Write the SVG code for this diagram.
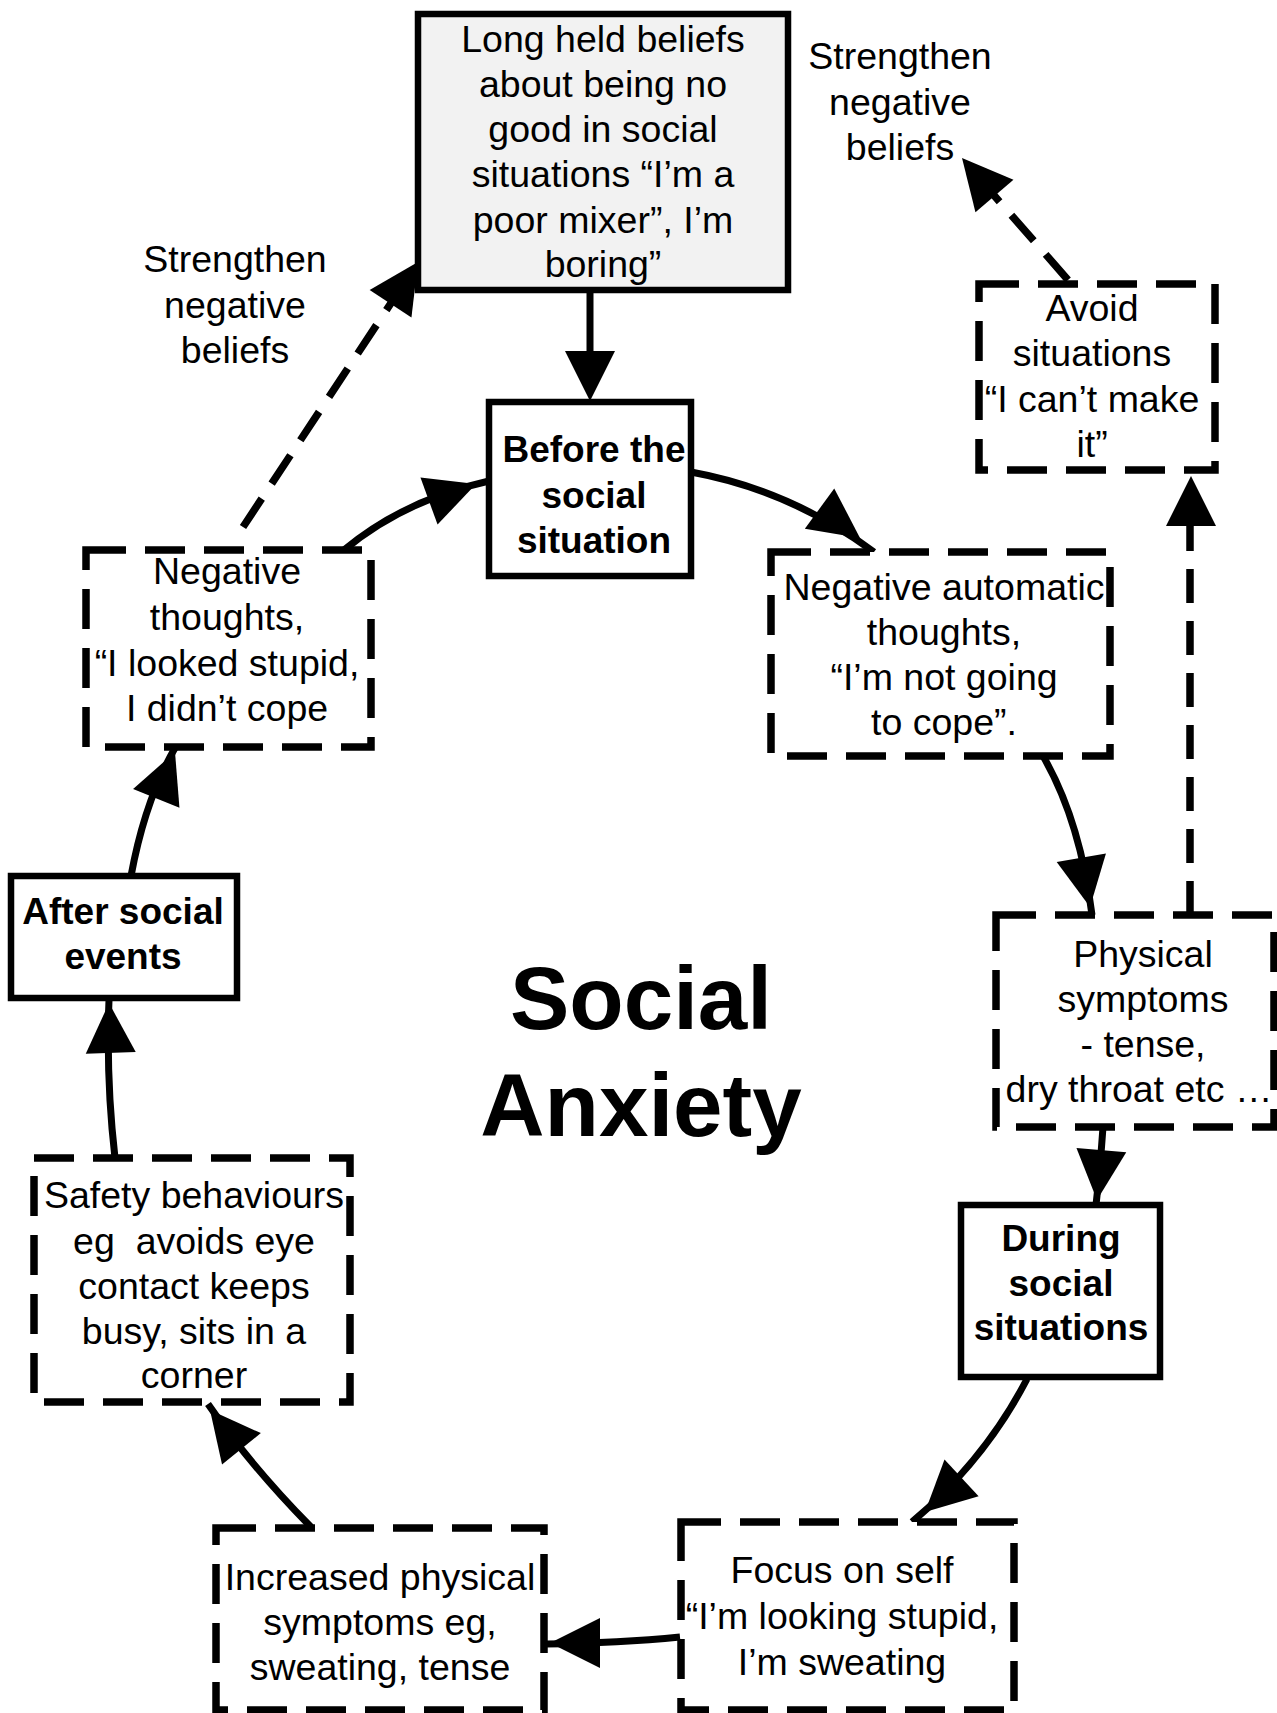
<svg xmlns="http://www.w3.org/2000/svg" xmlns:xlink="http://www.w3.org/1999/xlink" width="1277" height="1713" viewBox="0 0 1277 1713">
<style>
  .t { font-family: "Liberation Sans", Arial, sans-serif; font-size: 37.5px; fill: #000; text-anchor: middle; }
  .b { font-family: "Liberation Sans", Arial, sans-serif; font-size: 37px; font-weight: bold; fill: #000; text-anchor: middle; }
  .title { font-family: "Liberation Sans", Arial, sans-serif; font-size: 89px; font-weight: bold; fill: #000; text-anchor: middle; }
  .solid { fill: #fff; stroke: #000; stroke-width: 6.5; }
  .dash { fill: #fff; stroke: #000; stroke-width: 7.5; stroke-dasharray: 40 19; }
  .c { fill: none; stroke: #000; stroke-width: 7; }
  .cd { fill: none; stroke: #000; stroke-width: 7.5; stroke-dasharray: 34 18; }
</style>
<defs>
  <path id="ah" d="M0,0 L-50,-25 L-50,25 Z" fill="#000"/>
</defs>
<rect x="0" y="0" width="1277" height="1713" fill="#fff"/>

<g id="connectors">
  <line class="c" x1="590" y1="290" x2="590" y2="380"/>
  <use xlink:href="#ah" href="#ah" transform="translate(590,401) rotate(90)"/>

  <path class="c" d="M691,472 Q790,490 874,552"/>
  <use xlink:href="#ah" href="#ah" transform="translate(860,538) rotate(36)"/>

  <path class="c" d="M1043,756 Q1080,820 1092,915"/>
  <use xlink:href="#ah" href="#ah" transform="translate(1090,907) rotate(80)"/>

  <line class="cd" x1="1190" y1="915" x2="1190" y2="505"/>
  <use xlink:href="#ah" href="#ah" transform="translate(1191,476) rotate(-90)"/>

  <line class="cd" x1="1068" y1="280" x2="985" y2="185"/>
  <use xlink:href="#ah" href="#ah" transform="translate(962,158) rotate(-130.5)"/>

  <path class="c" d="M1103,1127 Q1100,1170 1096,1205"/>
  <use xlink:href="#ah" href="#ah" transform="translate(1097,1200) rotate(95)"/>

  <path class="c" d="M1027,1379 Q985,1460 912,1522"/>
  <use xlink:href="#ah" href="#ah" transform="translate(925,1512) rotate(137)"/>

  <path class="c" d="M680,1637 Q620,1643 546,1644"/>
  <use xlink:href="#ah" href="#ah" transform="translate(550,1643) rotate(180)"/>

  <path class="c" d="M311,1527 Q250,1465 208,1404"/>
  <use xlink:href="#ah" href="#ah" transform="translate(210,1410) rotate(-129)"/>

  <path class="c" d="M115,1158 Q106,1080 109,1000"/>
  <use xlink:href="#ah" href="#ah" transform="translate(109,1003) rotate(-92)"/>

  <path class="c" d="M131,876 Q145,800 175,748"/>
  <use xlink:href="#ah" href="#ah" transform="translate(175,752) rotate(-68)"/>

  <path class="c" d="M344,550 Q404,500 489,481"/>
  <use xlink:href="#ah" href="#ah" transform="translate(476,484) rotate(-20)"/>

  <line class="cd" x1="243" y1="527" x2="395" y2="297"/>
  <use xlink:href="#ah" href="#ah" transform="translate(418,262) rotate(-56.7)"/>
</g>

<g id="beliefs">
  <rect x="418" y="14" width="370" height="276" fill="#f2f2f2" stroke="#000" stroke-width="6.5"/>
  <text class="t" x="603" y="52">Long held beliefs</text>
  <text class="t" x="603" y="97">about being no</text>
  <text class="t" x="603" y="142">good in social</text>
  <text class="t" x="603" y="187">situations “I’m a</text>
  <text class="t" x="603" y="233">poor mixer”, I’m</text>
  <text class="t" x="603" y="277">boring”</text>
</g>

<g id="label-strengthen-right">
  <text class="t" x="900" y="69">Strengthen</text>
  <text class="t" x="900" y="115">negative</text>
  <text class="t" x="900" y="160">beliefs</text>
</g>

<g id="label-strengthen-left">
  <text class="t" x="235" y="272">Strengthen</text>
  <text class="t" x="235" y="318">negative</text>
  <text class="t" x="235" y="363">beliefs</text>
</g>

<g id="before">
  <rect class="solid" x="489" y="402" width="202" height="174"/>
  <text class="b" x="594" y="462">Before the</text>
  <text class="b" x="594" y="508">social</text>
  <text class="b" x="594" y="553">situation</text>
</g>

<g id="nat">
  <rect class="dash" x="771" y="552" width="339" height="204"/>
  <text class="t" x="944" y="600">Negative automatic</text>
  <text class="t" x="944" y="645">thoughts,</text>
  <text class="t" x="944" y="690">“I’m not going</text>
  <text class="t" x="944" y="735">to cope”.</text>
</g>

<g id="avoid">
  <rect class="dash" x="979" y="284" width="236" height="186"/>
  <text class="t" x="1092" y="321">Avoid</text>
  <text class="t" x="1092" y="366">situations</text>
  <text class="t" x="1092" y="412">“I can’t make</text>
  <text class="t" x="1092" y="457">it”</text>
</g>

<g id="physical">
  <rect class="dash" x="996" y="915" width="278" height="212"/>
  <text class="t" x="1143" y="967">Physical</text>
  <text class="t" x="1143" y="1012">symptoms</text>
  <text class="t" x="1143" y="1057">- tense,</text>
  <text class="t" x="1139" y="1102">dry throat etc …</text>
</g>

<g id="during">
  <rect class="solid" x="961" y="1205" width="199" height="172"/>
  <text class="b" x="1061" y="1251">During</text>
  <text class="b" x="1061" y="1296">social</text>
  <text class="b" x="1061" y="1340">situations</text>
</g>

<g id="focus">
  <rect class="dash" x="681" y="1522" width="333" height="188"/>
  <text class="t" x="842" y="1583">Focus on self</text>
  <text class="t" x="842" y="1629">“I’m looking stupid,</text>
  <text class="t" x="842" y="1675">I’m sweating</text>
</g>

<g id="increased">
  <rect class="dash" x="216" y="1528" width="328" height="182"/>
  <text class="t" x="380" y="1590">Increased physical</text>
  <text class="t" x="380" y="1635">symptoms eg,</text>
  <text class="t" x="380" y="1680">sweating, tense</text>
</g>

<g id="safety">
  <rect class="dash" x="34" y="1158" width="316" height="244"/>
  <text class="t" x="194" y="1208">Safety behaviours</text>
  <text class="t" x="194" y="1254">eg&#160; avoids eye</text>
  <text class="t" x="194" y="1299">contact keeps</text>
  <text class="t" x="194" y="1344">busy, sits in a</text>
  <text class="t" x="194" y="1388">corner</text>
</g>

<g id="after">
  <rect class="solid" x="11" y="876" width="226" height="122"/>
  <text class="b" x="123" y="924">After social</text>
  <text class="b" x="123" y="969">events</text>
</g>

<g id="negthoughts">
  <rect class="dash" x="86" y="550" width="285" height="197"/>
  <text class="t" x="227" y="584">Negative</text>
  <text class="t" x="227" y="630">thoughts,</text>
  <text class="t" x="227" y="676">“I looked stupid,</text>
  <text class="t" x="227" y="721">I didn’t cope</text>
</g>

<g id="title">
  <text class="title" x="641" y="1029">Social</text>
  <text class="title" x="641" y="1136">Anxiety</text>
</g>
</svg>
